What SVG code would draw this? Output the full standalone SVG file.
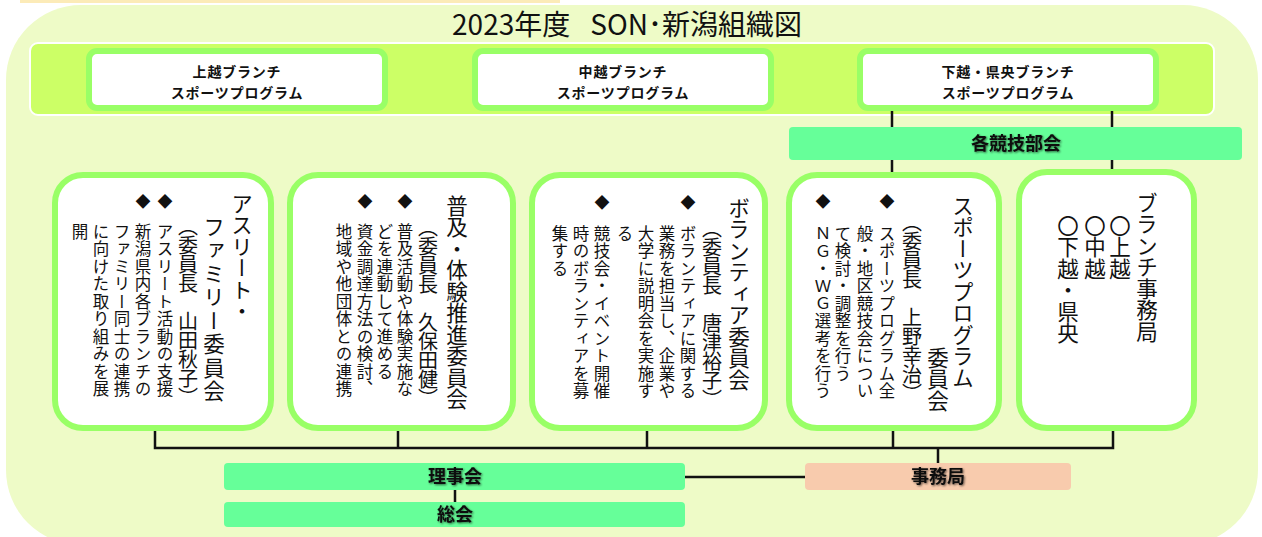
<svg xmlns="http://www.w3.org/2000/svg" width="1262" height="537" viewBox="0 0 1262 537">
<style>
.bg{fill:#EEFBC7}
.band{fill:#CCFF66;stroke:#FFFFFF;stroke-width:2}
.tbox{fill:#FFFFFF;stroke:#99FF66;stroke-width:6}
.vbox{fill:#FFFFFF;stroke:#99FF66;stroke-width:6}
.mint{fill:#66FF99}
.peach{fill:#F8CBAD}
.ln{stroke:#111;stroke-width:2.5;fill:none}
.jp{font-family:"Noto Sans CJK JP","Noto Sans",sans-serif;fill:#111}
.title{font-size:28px;font-weight:400;text-anchor:middle}
.tb{font-size:14px;font-weight:700;text-anchor:middle;letter-spacing:0.8px}
.lab{font-size:18px;font-weight:700;text-anchor:middle}
.v{writing-mode:vertical-rl}
.vt{font-size:21.5px}
.vp{font-size:20px;letter-spacing:-1px}
.vb{font-size:16.5px;letter-spacing:1px}
.dm{font-size:15px}
</style>
<defs>
<filter id="sh" x="-20%" y="-30%" width="140%" height="160%">
<feGaussianBlur in="SourceAlpha" stdDeviation="1.3"/>
<feOffset dx="1" dy="1"/>
<feComponentTransfer><feFuncA type="linear" slope="0.6"/></feComponentTransfer>
<feMerge><feMergeNode/><feMergeNode in="SourceGraphic"/></feMerge>
</filter>
</defs>
<rect x="0" y="0" width="1262" height="537" fill="#FFFFFF"/>
<rect x="20" y="0" width="540" height="3" fill="#FCEBB8"/>
<rect class="bg" x="6" y="5" width="1252" height="540" rx="75"/>
<text class="jp title" x="627" y="35">2023年度<tspan dx="20">SON</tspan>･新潟組織図</text>
<rect class="band" x="30" y="43" width="1184" height="72" rx="8"/>

<g id="connectors">
<path class="ln" d="M892 108V173M1112 108V173"/>
<path class="ln" d="M155 430V448H1113V430M398 430V448M647 430V448M893 430V448M938 448V463"/>
<path class="ln" d="M685 477H805M455 490V502"/>
</g>

<g id="joetsu">
<rect class="tbox" x="89" y="51" width="296" height="57" rx="8"/>
<text class="jp tb" x="237" y="77">上越ブランチ</text>
<text class="jp tb" x="237" y="97.5">スポーツプログラム</text>
</g>
<g id="chuetsu">
<rect class="tbox" x="475" y="51" width="296" height="57" rx="8"/>
<text class="jp tb" x="623" y="77">中越ブランチ</text>
<text class="jp tb" x="623" y="97.5">スポーツプログラム</text>
</g>
<g id="kaetsu">
<rect class="tbox" x="860" y="51" width="296" height="57" rx="8"/>
<text class="jp tb" x="1008" y="77">下越・県央ブランチ</text>
<text class="jp tb" x="1008" y="97.5">スポーツプログラム</text>
</g>
<g id="kakukyogi">
<rect class="mint" x="789" y="127" width="453" height="33" rx="4"/>
<text class="jp lab" x="1016" y="150" filter="url(#sh)">各競技部会</text>
</g>

<g id="athlete">
<rect class="vbox" x="55" y="175" width="216" height="253" rx="28"/>
<text class="jp v vt" x="242" y="193">アスリート・</text>
<text class="jp v vt" x="214" y="216" style="letter-spacing:2px">ファミリー委員会</text>
<text class="jp v vp" x="188" y="216">（委員長　山田秋子）</text>
<text class="jp v dm" x="165" y="194">◆</text>
<text class="jp v dm" x="143" y="194">◆</text>
<text class="jp v vb" x="165" y="223">アスリート活動の支援</text>
<text class="jp v vb" x="143" y="223">新潟県内各ブランチの</text>
<text class="jp v vb" x="122" y="223">ファミリー同士の連携</text>
<text class="jp v vb" x="101" y="223">に向けた取り組みを展</text>
<text class="jp v vb" x="80" y="223">開</text>
</g>

<g id="fukyu">
<rect class="vbox" x="290" y="175" width="223" height="253" rx="28"/>
<text class="jp v vt" x="457" y="195">普及・体験推進委員会</text>
<text class="jp v vp" x="428" y="217">（委員長　久保田健）</text>
<text class="jp v dm" x="405" y="194">◆</text>
<text class="jp v dm" x="365" y="194">◆</text>
<text class="jp v vb" x="405" y="223">普及活動や体験実施な</text>
<text class="jp v vb" x="385" y="223">どを連動して進める</text>
<text class="jp v vb" x="365" y="223">資金調達方法の検討、</text>
<text class="jp v vb" x="344" y="223">地域や他団体との連携</text>
</g>

<g id="volunteer">
<rect class="vbox" x="532" y="175" width="233" height="253" rx="28"/>
<text class="jp v vt" x="739" y="197">ボランティア委員会</text>
<text class="jp v vp" x="712" y="218">（委員長　唐津裕子）</text>
<text class="jp v dm" x="688" y="195">◆</text>
<text class="jp v dm" x="602" y="195">◆</text>
<text class="jp v vb" x="688" y="225">ボランティアに関する</text>
<text class="jp v vb" x="667" y="225">業務を担当し、企業や</text>
<text class="jp v vb" x="646" y="225">大学に説明会を実施す</text>
<text class="jp v vb" x="625" y="225">る</text>
<text class="jp v vb" x="602" y="225">競技会・イベント開催</text>
<text class="jp v vb" x="581" y="225">時のボランティアを募</text>
<text class="jp v vb" x="560" y="225">集する</text>
</g>

<g id="sportsprogram">
<rect class="vbox" x="789" y="175" width="210" height="253" rx="28"/>
<text class="jp v vt" x="963" y="195">スポーツプログラム</text>
<text class="jp v vt" x="938" y="347">委員会</text>
<text class="jp v vp" x="912" y="212">（委員長　上野幸治）</text>
<text class="jp v dm" x="887" y="194">◆</text>
<text class="jp v dm" x="823" y="194">◆</text>
<text class="jp v vb" x="887" y="225">スポーツプログラム全</text>
<text class="jp v vb" x="865" y="225">般・地区競技会につい</text>
<text class="jp v vb" x="843" y="225">て検討・調整を行う</text>
<text class="jp v vb" x="823" y="225">ＮＧ・ＷＧ選考を行う</text>
</g>

<g id="branchoffice">
<rect class="vbox" x="1019" y="172" width="175" height="256" rx="28"/>
<text class="jp v vt" x="1147" y="192">ブランチ事務局</text>
<text class="jp v vt" x="1120" y="215">〇上越</text>
<text class="jp v vt" x="1095" y="215">〇中越</text>
<text class="jp v vt" x="1068" y="215">〇下越・県央</text>
</g>

<g id="rijikai">
<rect class="mint" x="224" y="463" width="461" height="27" rx="4"/>
<text class="jp lab" x="455" y="483" filter="url(#sh)">理事会</text>
</g>
<g id="sokai">
<rect class="mint" x="224" y="502" width="461" height="25" rx="4"/>
<text class="jp lab" x="455" y="521" filter="url(#sh)">総会</text>
</g>
<g id="jimukyoku">
<rect class="peach" x="805" y="463" width="266" height="27" rx="4"/>
<text class="jp lab" x="938" y="483" filter="url(#sh)">事務局</text>
</g>
</svg>
